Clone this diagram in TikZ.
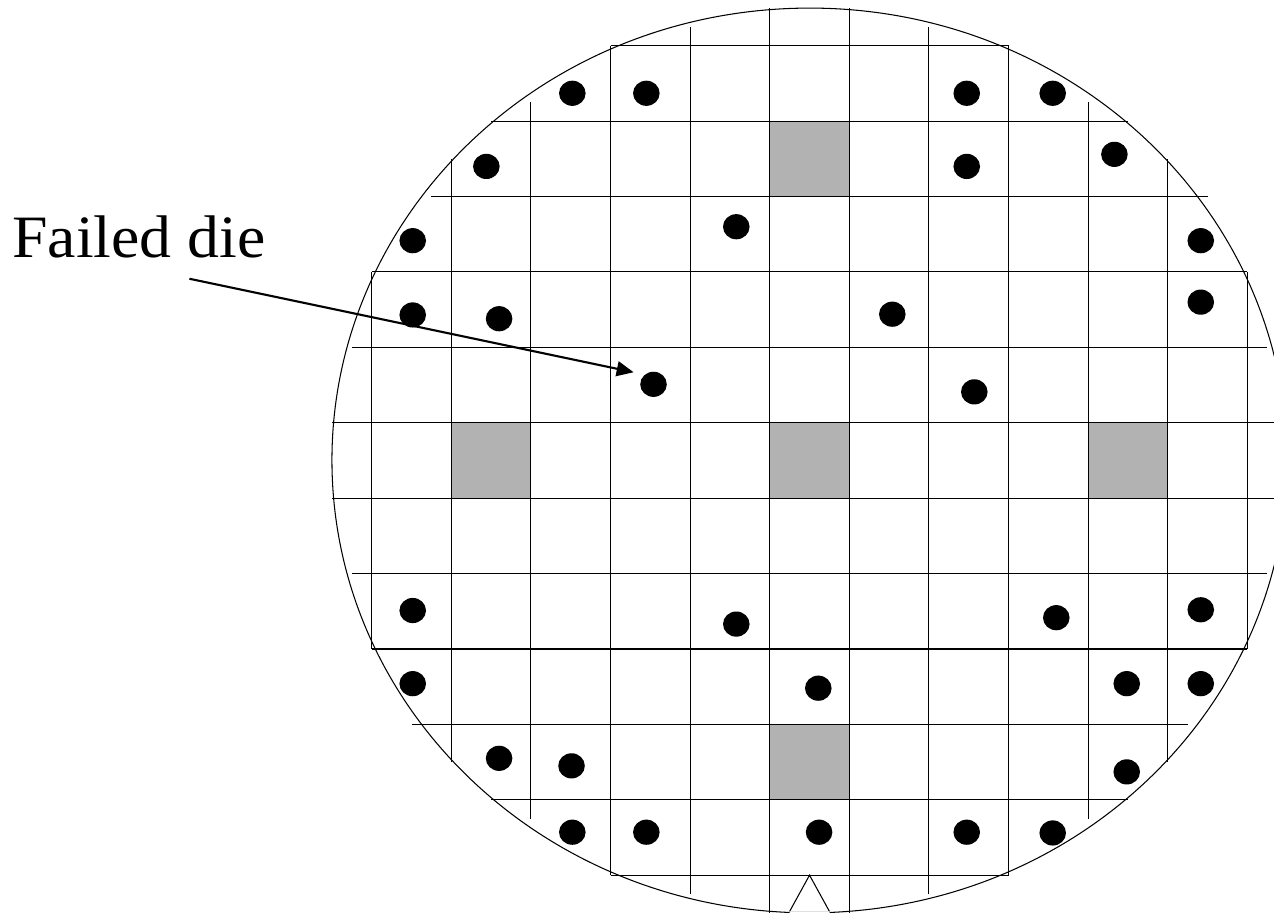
\documentclass[tikz,border=0pt]{standalone}
\usepackage{fontspec}
\setmainfont{Liberation Serif}
\usetikzlibrary{arrows.meta}
\definecolor{DieGray}{HTML}{B2B2B2}

\begin{document}
\begin{tikzpicture}[x=0.8cm,y=0.7578cm,line width=0.3pt]
        \useasboundingbox (-10.17,-6.041) rectangle (5.835,6.107);
        \foreach \x/\v in {-0.5/3.5,-4.5/-0.5,-0.5/-0.5,3.5/-0.5,-0.5/-4.5} {\fill[DieGray] (\x,\v) rectangle ++(1,1);}
        \foreach \x/\h in {-5.5/2.5,-4.5/4,-3.5/4.75,-2.5/5.5,-1.5/5.75,-0.5/6,0.5/6,1.5/5.75,2.5/5.5,3.5/4.75,4.5/4,5.5/2.5} {\draw (\x,-\h)--(\x,\h);}
        \foreach \v/\a/\b in {5.5/-2.5/2.5,4.5/-4/4,3.5/-4.75/5,2.5/-5.5/5.5,1.5/-5.75/5.75,0.5/-6/6,-0.5/-6/6,-1.5/-5.75/5.75,-2.5/-5.5/5.5,-3.5/-5/4.75,-4.5/-4/4,-5.5/-2.5/2.5} {\draw (\a,\v)--(\b,\v);}
        \draw (272.4:6) arc[start angle=272.4,end angle=627.6,radius=6];
        \draw (-0.25,-5.98)--(0,-5.5)--(0.25,-5.98);
        \draw[gray!25] (-0.25,-5.98)--(0.25,-5.98);
        \foreach \x/\v in {-2.98/4.87,-2.05/4.87,1.975/4.87,3.055/4.87,-4.06/3.9,1.975/3.9,3.83/4.06,-4.985/2.915,-0.92/3.1,4.915/2.915,-4.985/1.93,-3.9/1.88,1.04/1.94,4.915/2.1,-1.96/1.01,2.07/0.91,-4.985/-1.99,-0.92/-2.17,3.1/-2.085,4.915/-1.98,-4.985/-2.96,0.11/-3.02,3.985/-2.96,4.915/-2.96,-3.9/-3.95,-2.99/-4.05,3.985/-4.13,-2.98/-4.93,-2.05/-4.93,0.12/-4.93,1.975/-4.93,3.055/-4.94} {\fill (\x,\v) circle (0.167);}
        \node[anchor=base west,inner sep=0pt,font=\fontsize{17.2}{20}\selectfont] (lbl) at (-10.02,2.695) {\scalebox{1.06}[1]{Failed die}};
        \coordinate (tail) at (-7.79,2.41);
        \coordinate (tip) at (-2.21,1.17);
        \draw[-{Triangle[length=0.17cm,width=0.15cm]},line width=0.6pt] (tail)--(tip);
      \end{tikzpicture}
\end{document}
